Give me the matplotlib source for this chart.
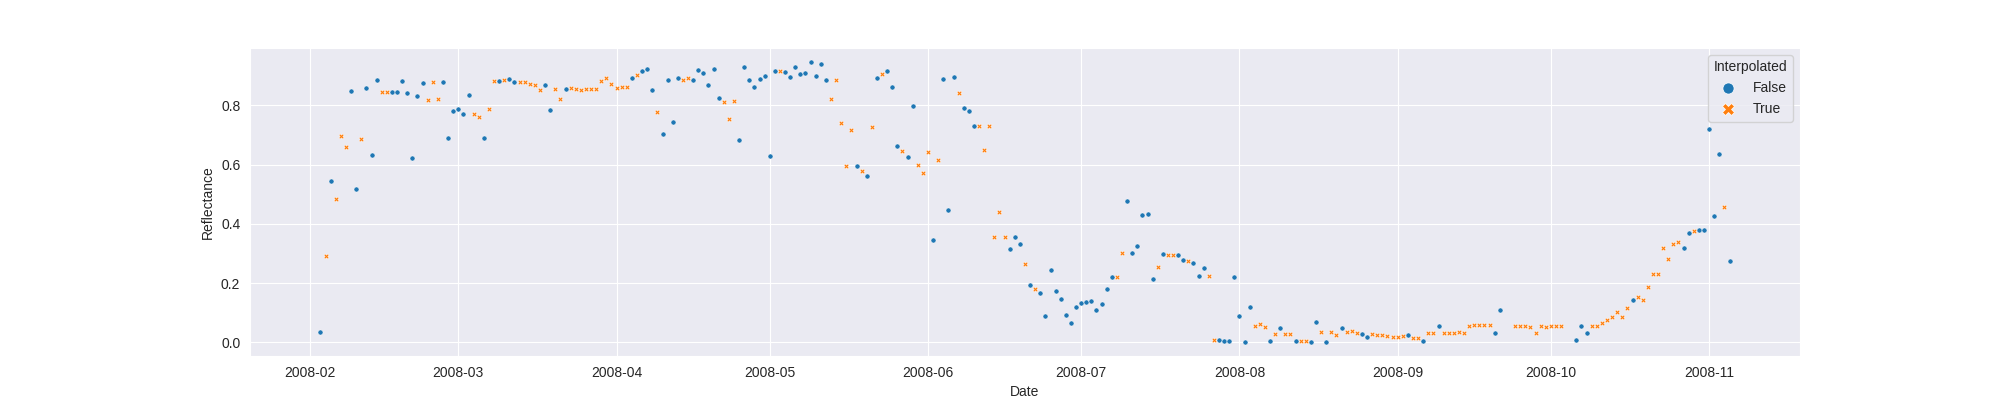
import numpy as np
import pandas as pd
import matplotlib
matplotlib.use("Agg")
import matplotlib.pyplot as plt
import seaborn as sns
from matplotlib.lines import Line2D

nan = np.nan

# daily reflectance from 2008-02-03, one list per month (nan = no observation)
feb = [0.035, 0.29, 0.545, 0.483, 0.697, 0.659, 0.849, 0.516, 0.686, 0.857,
       0.631, 0.886, 0.845, 0.845, 0.845, 0.845, 0.881, 0.840, 0.623, 0.832,
       0.875, 0.817, 0.878, 0.821, 0.880, 0.689, 0.780]
mar = [0.787, 0.769, 0.835, 0.769, 0.762, 0.689, 0.786, 0.881, 0.881, 0.885,
       0.888, 0.878, 0.878, 0.878, 0.873, 0.869, 0.853, 0.870, 0.785, 0.854,
       0.820, 0.854, 0.858, 0.854, 0.853, 0.855, 0.855, 0.855, 0.882, 0.891,
       0.873]
apr = [0.859, 0.861, 0.861, 0.891, 0.903, 0.915, 0.923, 0.850, 0.778, 0.704,
       0.885, 0.742, 0.893, 0.884, 0.893, 0.884, 0.920, 0.908, 0.869, 0.923,
       0.826, 0.810, 0.754, 0.815, 0.684, 0.930, 0.886, 0.861, 0.889, 0.899]
may = [0.629, 0.917, 0.915, 0.913, 0.897, 0.928, 0.905, 0.908, 0.946, 0.900,
       0.938, 0.884, 0.821, 0.884, 0.740, 0.596, 0.717, 0.596, 0.579, 0.562,
       0.726, 0.891, 0.904, 0.916, 0.861, 0.664, 0.645, 0.626, 0.799, 0.597,
       0.571]
jun = [0.643, 0.344, 0.616, 0.887, 0.447, 0.897, 0.843, 0.791, 0.782, 0.729,
       0.729, 0.650, 0.729, 0.357, 0.440, 0.357, 0.314, 0.357, 0.333, 0.263,
       0.193, 0.181, 0.167, 0.090, 0.245, 0.172, 0.145, 0.093, 0.066, 0.119]
jul = [0.131, 0.136, 0.140, 0.108, 0.128, 0.179, 0.219, 0.219, 0.302, 0.477,
       0.302, 0.325, 0.428, 0.432, 0.212, 0.255, 0.298, 0.293, 0.293, 0.293,
       0.277, 0.273, 0.268, 0.225, 0.251, 0.225, 0.009, 0.009, 0.003, 0.003,
       0.220]
aug = [0.090, 0.001, 0.120, 0.056, 0.063, 0.053, 0.004, 0.027, 0.049, 0.027,
       0.027, 0.003, 0.003, 0.003, 0.002, 0.070, 0.036, 0.002, 0.036, 0.025,
       0.047, 0.034, 0.037, 0.033, 0.027, 0.019, 0.027, 0.025, 0.025, 0.022,
       0.019]
sep = [0.019, 0.022, 0.025, 0.015, 0.015, 0.003, 0.030, 0.030, 0.056, 0.031,
       0.033, 0.033, 0.035, 0.033, 0.056, 0.057, 0.057, 0.057, 0.057, 0.033,
       0.109, nan, nan, 0.056, 0.056, 0.055, 0.051, 0.033, 0.055, 0.050]
oct_ = [0.055, 0.055, 0.055, nan, nan, 0.008, 0.055, 0.031, 0.055, 0.055,
        0.065, 0.076, 0.086, 0.102, 0.086, 0.115, 0.143, 0.153, 0.143, 0.187,
        0.230, 0.230, 0.318, 0.280, 0.332, 0.339, 0.318, 0.369, 0.374, 0.380,
        0.380]
nov = [0.720, 0.427, 0.634, 0.455, 0.275]

# T = interpolated, F = observed, - = missing
flags_feb = "FTFTTTFFTFFFTTFFFFFFFTTTFFF"
flags_mar = "FFFTTFTTFT" "FFTTTTTFFT" "TFTTTTTTTTT"
flags_apr = "TTTFTFFFTF" "FFFTTFFFFF" "FTTTFFFFFF"
flags_may = "FFTFFFFFFF" "FFTTTTTFTF" "TFTFFFTFFTT"
flags_jun = "TFTFFFTFFF" "TTTTTTFFFT" "FTFFFFFFFF"
flags_jul = "FFFFFFFTTF" "FFFFFTFTTF" "FTFFFTTFFFF"
flags_aug = "FFFTTTFTFT" "TFTTFFTFTT" "FTTTFFTTTTT"
flags_sep = "TTFTTFTTFT" "TTTTTTTTTF" "F--TTTTTTT"
flags_oct = "TTT--FFFTT" "TTTTTTFTTT" "TTTTTTFFTFF"
flags_nov = "FFFTF"

values = feb + mar + apr + may + jun + jul + aug + sep + oct_ + nov
flags = (flags_feb + flags_mar + flags_apr + flags_may + flags_jun
         + flags_jul + flags_aug + flags_sep + flags_oct + flags_nov)

df = pd.DataFrame({
    "Date": pd.date_range("2008-02-03", periods=len(values), freq="D"),
    "Reflectance": values,
    "flag": list(flags),
})
df = df[df["flag"] != "-"]

sns.set_style("darkgrid")
plt.rcParams["font.family"] = ["Liberation Sans", "DejaVu Sans"]

fig, ax = plt.subplots(figsize=(20, 4), dpi=100)

blue, orange = "#1f77b4", "#ff7f0e"
obs = df[df["flag"] == "F"]
itp = df[df["flag"] == "T"]
ax.scatter(obs["Date"], obs["Reflectance"], s=13, marker="o", color=blue,
           edgecolor="w", linewidth=0.3, zorder=3)
ax.scatter(itp["Date"], itp["Reflectance"], s=13, marker="X", color=orange,
           edgecolor="w", linewidth=0.3, zorder=3)

ax.set_xlabel("Date")
ax.set_ylabel("Reflectance")

handles = [
    Line2D([], [], linestyle="", marker="o", color=blue, markersize=8,
           markeredgecolor="w", markeredgewidth=0.5),
    Line2D([], [], linestyle="", marker="X", color=orange, markersize=8,
           markeredgecolor="w", markeredgewidth=0.5),
]
ax.legend(handles, ["False", "True"], title="Interpolated", loc="upper right")

fig.savefig("out.png")
